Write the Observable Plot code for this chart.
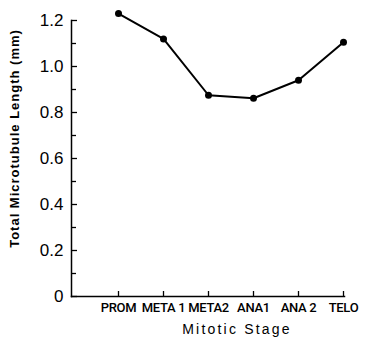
<!DOCTYPE html>
<html><head>
<meta charset="utf-8">
<script src="https://cdn.jsdelivr.net/npm/d3@7"></script>
<script src="https://cdn.jsdelivr.net/npm/@observablehq/plot@0.6"></script>
<style>body{margin:0;background:#fff}</style>
</head><body><div id="chart"></div>
<script>
const stages = ["PROM", "META 1", "META2", "ANA1", "ANA 2", "TELO"];
const lengths = [1.23, 1.12, 0.875, 0.862, 0.94, 1.105];
const yMajorTicks = [0, 0.2, 0.4, 0.6, 0.8, 1.0, 1.2];
const yMinorTicks = [0.1, 0.3, 0.5, 0.7, 0.9, 1.1];
const yTitle = "Total Microtubule Length (mm)";
const xTitle = "Mitotic Stage";

const data = stages.map((s, i) => ({stage: s, length: lengths[i]}));

const chart = Plot.plot({
  width: 368, height: 339,
  marginLeft: 71, marginRight: 24, marginTop: 20, marginBottom: 43,
  style: {fontFamily: "'Liberation Sans', Arial, sans-serif", background: "#fff", color: "#000"},
  x: {type: "point", domain: stages, range: [117, 344], padding: 0},
  y: {domain: [0, 1.2]},
  marks: [
    Plot.frame({anchor: "left", stroke: "#000", strokeWidth: 1.5}),
    Plot.frame({anchor: "bottom", stroke: "#000", strokeWidth: 1.5}),
    Plot.axisY({ticks: yMajorTicks, tickSize: -6, tickPadding: 14, strokeWidth: 1.3,
      tickFormat: d => d === 0 ? "0" : d.toFixed(1), fontSize: 17, label: null}),
    Plot.axisY({ticks: yMinorTicks, tickSize: -5, strokeWidth: 1.3, tickFormat: () => "", label: null}),
    Plot.axisX({tickSize: -5, tickPadding: 11, strokeWidth: 1.3, fontSize: 13, fontWeight: 500,
      fontFamily: "Roboto, 'Liberation Sans', sans-serif", label: null}),
    Plot.line(data, {x: "stage", y: "length", stroke: "#000", strokeWidth: 2}),
    Plot.dot(data, {x: "stage", y: "length", fill: "#000", r: 3.5}),
    Plot.text([xTitle], {text: d => d, frameAnchor: "bottom", textAnchor: "middle", lineAnchor: "middle",
      dx: 29, dy: 33, fontSize: 14}),
    Plot.text([yTitle], {text: d => d, frameAnchor: "left", textAnchor: "middle", lineAnchor: "middle",
      rotate: -90, dx: -57, dy: -20, fontSize: 13, fontWeight: "bold"})
  ]
});
d3.select(chart).selectAll("text").filter(function() { return this.textContent === xTitle; }).attr("letter-spacing", "2.2px");
d3.select(chart).selectAll("text").filter(function() { return this.textContent === yTitle; }).attr("letter-spacing", "1px");
d3.select(chart).selectAll("g[aria-label='x-axis tick label'] text").attr("letter-spacing", "-0.3px");
document.getElementById("chart").appendChild(chart);
</script>
</body></html>
